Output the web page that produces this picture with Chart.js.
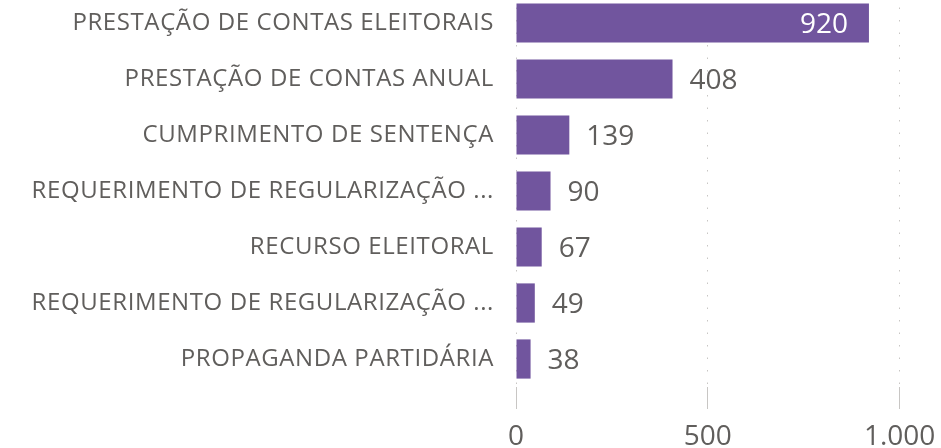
<!DOCTYPE html>
<html><head><meta charset="utf-8">
<script src="https://cdn.jsdelivr.net/npm/chart.js@4"></script>
<style>
html,body{margin:0;padding:0;background:#fff;}
#wrap{position:relative;width:941px;height:448px;overflow:hidden;}
#box{position:absolute;left:0;top:-5px;width:941px;height:453px;}
</style></head><body>
<div id="wrap"><div id="box"><canvas id="c"></canvas></div></div>
<script>
const categories = [
  "PRESTAÇÃO DE CONTAS ELEITORAIS",
  "PRESTAÇÃO DE CONTAS ANUAL",
  "CUMPRIMENTO DE SENTENÇA",
  "REQUERIMENTO DE REGULARIZAÇÃO ...",
  "RECURSO ELEITORAL",
  "REQUERIMENTO DE REGULARIZAÇÃO ...",
  "PROPAGANDA PARTIDÁRIA"
];
const values = [920, 408, 139, 90, 67, 49, 38];
const tickValues = [0, 500, 1000];
const tickLabels = ["0", "500", "1.000"];

const FONT = "'Open Sans', 'Segoe UI', sans-serif";
const barColor = "#71559E";
const textGray = "#605E5C";

const labelPlugin = {
  id: 'valueLabels',
  afterDatasetsDraw(chart) {
    const ctx = chart.ctx;
    const meta = chart.getDatasetMeta(0);
    ctx.save();
    ctx.font = "28px " + FONT;
    ctx.textBaseline = 'middle';
    meta.data.forEach((el, i) => {
      const txt = String(values[i]);
      const barW = el.x - el.base;
      if (barW > 300) {
        ctx.fillStyle = '#ffffff';
        ctx.textAlign = 'right';
        ctx.fillText(txt, el.x - 21, el.y + 2);
      } else {
        ctx.fillStyle = textGray;
        ctx.textAlign = 'left';
        ctx.fillText(txt, el.x + 17, el.y + 2);
      }
    });
    ctx.restore();
  }
};

new Chart(document.getElementById('c'), {
  type: 'bar',
  data: {
    labels: categories,
    datasets: [{
      data: values,
      backgroundColor: barColor,
      borderWidth: 0,
      barPercentage: 0.7,
      categoryPercentage: 1.0
    }]
  },
  options: {
    indexAxis: 'y',
    responsive: true,
    maintainAspectRatio: false,
    animation: false,
    layout: { padding: { left: 0, right: 3, top: 0, bottom: 0 } },
    plugins: { legend: { display: false }, tooltip: { enabled: false } },
    scales: {
      x: {
        min: 0,
        max: 1100,
        afterBuildTicks(scale) {
          scale.ticks = tickValues.map(v => ({ value: v }));
        },
        afterFit(scale) { scale.height = 61; scale.paddingLeft = 0; scale.paddingRight = 0; },
        ticks: {
          font: { family: FONT, size: 28 },
          color: textGray,
          padding: 11,
          maxRotation: 0,
          callback(v) { const i = tickValues.indexOf(v); return i >= 0 ? tickLabels[i] : ''; }
        },
        grid: { color: '#C8C6C4', lineWidth: 1, tickLength: 22, drawTicks: true },
        border: { display: false, dash: [1.5, 11] }
      },
      y: {
        afterFit(scale) {
          scale.width = 516;
          scale.paddingTop = 0;
          scale.paddingBottom = 0;
          if (!scale._lsWrapped) {
            const orig = scale.drawLabels;
            scale.drawLabels = function (ca) {
              this.ctx.save();
              this.ctx.letterSpacing = '0.6px';
              orig.call(this, ca);
              this.ctx.restore();
            };
            scale._lsWrapped = true;
          }
        },
        ticks: {
          font: { family: FONT, size: 24 },
          color: textGray,
          padding: 22,
          autoSkip: false
        },
        grid: { display: false, drawTicks: false },
        border: { display: false }
      }
    }
  },
  plugins: [labelPlugin]
});
</script>
</body></html>
